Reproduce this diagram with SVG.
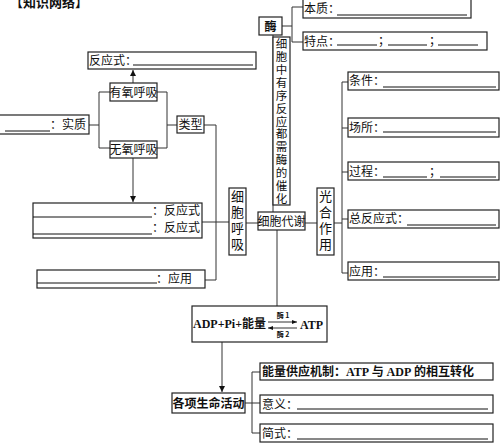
<svg xmlns="http://www.w3.org/2000/svg" width="500" height="444" viewBox="0 0 500 444">
<defs>
<marker id="ah" viewBox="0 0 10 10" refX="10" refY="5" markerWidth="6" markerHeight="6" orient="auto" markerUnits="userSpaceOnUse"><path d="M0,0 L10,5 L0,10 z" fill="#111"/></marker>
<marker id="sh" viewBox="0 0 10 10" refX="10" refY="5" markerWidth="5" markerHeight="5" orient="auto" markerUnits="userSpaceOnUse"><path d="M0,1 L10,5 L0,9 z" fill="#111"/></marker>
</defs>
<style>
rect{fill:#fff;stroke:#222;stroke-width:1.2}
.t{font-family:"Noto Sans CJK SC","Liberation Serif",serif;font-size:12px;fill:#111}
.c{text-anchor:middle}
.b{font-weight:bold}
.vt{writing-mode:vertical-rl;text-orientation:upright}
.v13{font-size:13px;letter-spacing:3px}
.v12{font-size:11.5px;letter-spacing:1.4px}
.s7{font-size:7px}
.ul{stroke:#111;stroke-width:1;fill:none}
.ln{stroke:#333;stroke-width:1;fill:none}
.tm{font-family:"Liberation Serif","Noto Sans CJK SC",serif;font-weight:bold;font-size:12px;fill:#111}
</style>
<rect width="500" height="444" style="fill:#fff;stroke:none"/>
<text class="t b" x="10" y="7" style="font-size:13px">【知识网络】</text>

<g id="connectors">
<path class="ln" d="M89,125 H99 M99,92 V148 M99,92 H110 M99,148 H110"/>
<path class="ln" d="M157,92 H167 V148 H157 M167,125 H177"/>
<path class="ln" d="M204,125 H216 V280 H205"/>
<path class="ln" d="M202,222 H229"/>
<path class="ln" d="M133,83 V70" marker-end="url(#ah)"/>
<path class="ln" d="M133,158 V202" marker-end="url(#ah)"/>
<path class="ln" d="M246,223 H258 M305,223 H317"/>
<path class="ln" d="M273,35 V212"/>
<path class="ln" d="M282,26 H292 M292,7 V42 M292,7 H303 M292,42 H303"/>
<path class="ln" d="M334,223 H342 M342,82 V273 M342,82 H348 M342,128 H348 M342,172 H348 M342,219 H348 M342,273 H348"/>
<path class="ln" d="M277,230 V306"/>
<path class="ln" d="M222,342 V392" marker-end="url(#ah)"/>
<path class="ln" d="M245,403 H252 M252,372 V433 M252,372 H260 M252,403 H260 M252,433 H260"/>
</g>

<g id="n-fanyingshi-top">
<rect x="88" y="52" width="168" height="17"/>
<text class="t" x="89" y="65">反应式：</text>
<line class="ul" x1="133" y1="65" x2="253" y2="65"/>
</g>
<g id="n-youyang"><rect x="110" y="83" width="47" height="18"/><text class="t c" x="133.5" y="97">有氧呼吸</text></g>
<g id="n-wuyang"><rect x="110" y="141" width="47" height="17"/><text class="t c" x="133.5" y="154">无氧呼吸</text></g>
<g id="n-leixing"><rect x="177" y="116" width="27" height="17"/><text class="t c" x="190.5" y="129">类型</text></g>
<g id="n-shizhi">
<rect x="-2" y="115" width="91" height="19"/>
<line class="ul" x1="5" y1="131" x2="50" y2="131"/>
<text class="t" x="50" y="129">：实质</text>
</g>
<g id="n-fanyingshi-left">
<rect x="33" y="203" width="169" height="35"/>
<line class="ul" x1="33" y1="217" x2="152" y2="217"/>
<line class="ul" x1="33" y1="234" x2="152" y2="234" stroke-width="1.5"/>
<text class="t" x="152" y="215">：反应式</text>
<text class="t" x="152" y="232">：反应式</text>
</g>
<g id="n-yingyong-left">
<rect x="37" y="270" width="168" height="18"/>
<line class="ul" x1="37" y1="283" x2="157" y2="283"/>
<text class="t" x="156" y="283">：应用</text>
</g>
<g id="n-xibaohuxi">
<rect x="229" y="188" width="17" height="67"/>
<text class="t vt v13" x="237.5" y="190">细胞呼吸</text>
</g>
<g id="n-xibaodaixie"><rect x="258" y="212" width="47" height="18"/><text class="t c" x="281.5" y="226">细胞代谢</text></g>
<g id="n-guanghe">
<rect x="317" y="188" width="17" height="67"/>
<text class="t vt v13" x="325.5" y="190">光合作用</text>
</g>
<g id="n-mei"><rect x="259" y="17" width="23" height="18"/><text class="t c b" x="270.5" y="31">酶</text></g>
<g id="n-xuyao">
<rect x="273" y="37" width="17" height="168"/>
<text class="t vt v12" x="281.5" y="38">细胞中有序反应都需酶的催化</text>
</g>
<g id="n-benzhi">
<rect x="303" y="-1" width="168" height="19"/>
<text class="t" x="304" y="13">本质：</text>
<line class="ul" x1="337" y1="15" x2="467" y2="15" stroke-width="1.4"/>
</g>
<g id="n-tedian">
<rect x="303" y="32" width="184" height="18"/>
<text class="t" x="304" y="46">特点：</text>
<line class="ul" x1="337" y1="45" x2="377" y2="45"/>
<text class="t" x="378" y="45">；</text>
<line class="ul" x1="388" y1="45" x2="427" y2="45"/>
<text class="t" x="429" y="45">；</text>
<line class="ul" x1="438" y1="45" x2="478" y2="45"/>
</g>
<g id="n-tiaojian">
<rect x="348" y="72" width="151" height="18"/>
<text class="t" x="349" y="85">条件：</text>
<line class="ul" x1="383" y1="87" x2="496" y2="87" stroke-width="1.4"/>
</g>
<g id="n-changsuo">
<rect x="348" y="118" width="151" height="19"/>
<text class="t" x="349" y="132">场所：</text>
<line class="ul" x1="383" y1="132" x2="496" y2="132"/>
</g>
<g id="n-guocheng">
<rect x="348" y="162" width="151" height="18"/>
<text class="t" x="349" y="176">过程：</text>
<line class="ul" x1="383" y1="177" x2="427" y2="177"/>
<text class="t" x="429" y="176">；</text>
<line class="ul" x1="440" y1="177" x2="496" y2="177"/>
</g>
<g id="n-zongfanying">
<rect x="348" y="210" width="151" height="18"/>
<text class="t" x="349" y="223">总反应式：</text>
<line class="ul" x1="407" y1="225" x2="496" y2="225"/>
</g>
<g id="n-yingyong-right">
<rect x="348" y="262" width="151" height="18"/>
<text class="t" x="349" y="276">应用：</text>
<line class="ul" x1="383" y1="277" x2="496" y2="277" stroke-width="1.4"/>
</g>
<g id="n-atp">
<rect x="192" y="306" width="135" height="36"/>
<text class="t b" x="193" y="328"><tspan class="tm">ADP+Pi+</tspan>能量</text>
<path class="ln" d="M268,322 H297" marker-end="url(#sh)"/>
<path class="ln" d="M297,328 H268" marker-end="url(#sh)"/>
<text class="t b c s7" x="283" y="318">酶 1</text>
<text class="t b c s7" x="283" y="337">酶 2</text>
<text class="tm" x="300" y="329">ATP</text>
</g>
<g id="n-shengming"><rect x="172" y="393" width="73" height="20"/><text class="t c b" x="208.5" y="408">各项生命活动</text></g>
<g id="n-jizhi">
<rect x="260" y="363" width="233" height="17"/>
<text class="t b" x="262" y="376">能量供应机制：<tspan class="tm">ATP</tspan> 与 <tspan class="tm">ADP</tspan> 的相互转化</text>
</g>
<g id="n-yiyi">
<rect x="260" y="395" width="233" height="18"/>
<text class="t" x="262" y="409">意义：</text>
<line class="ul" x1="297" y1="409" x2="488" y2="409"/>
</g>
<g id="n-jianshi">
<rect x="260" y="424" width="233" height="18"/>
<text class="t" x="262" y="438">简式：</text>
<line class="ul" x1="297" y1="439" x2="488" y2="439"/>
</g>
</svg>
